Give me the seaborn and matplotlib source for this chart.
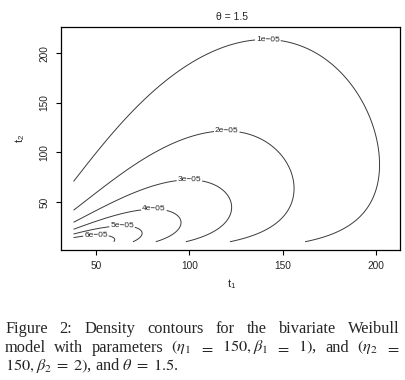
import numpy as np
import seaborn as sns
import matplotlib
matplotlib.use("Agg")
import matplotlib.pyplot as plt

# model parameters shown in the figure
theta = 1.5
eta = [150, 150]
beta = [1, 2]

# evaluation range of the density grid
x_range = [38, 206]
y_range = [10, 218]

# contour levels drawn
levels = [1e-05, 2e-05, 3e-05, 4e-05, 5e-05, 6e-05]
level_labels = ["1e\u221205", "2e\u221205", "3e\u221205", "4e\u221205", "5e\u221205", "6e\u221205"]

x_ticks = [50, 100, 150, 200]
y_ticks = [50, 100, 150, 200]

# where the inline labels sit on each contour
label_spots = [(142, 212), (120, 120), (100, 71), (81, 41), (64, 24), (50, 16)]

caption_lines = [
    ["Figure", "2:", "Density", "contours", "for", "the", "bivariate", "Weibull"],
    ["model", "with", "parameters", r"$(\eta_1$", "$=$", r"$150, \beta_1$", "$=$",
     "$1)$,", "and", r"$(\eta_2$", "$=$"],
    [r"$150, \beta_2\;=\;2)$, and $\theta\;=\;1.5$."],
]


def weibull_density(t_x, t_y):
    # positive-stable (Gumbel/Hougaard) bivariate Weibull; the x axis of the
    # figure carries the shape-2 margin
    a = (t_x / eta[1]) ** (beta[1] * theta)
    b = (t_y / eta[0]) ** (beta[0] * theta)
    A = a + b
    S = np.exp(-A ** (1 / theta))
    da = beta[1] * theta * a / t_x
    db = beta[0] * theta * b / t_y
    return S * da * db * A ** (1 / theta - 2) / theta * (A ** (1 / theta) / theta + 1 - 1 / theta)


W, H = 405, 380
sns.set_style("ticks")
plt.rcParams["font.family"] = ["Liberation Sans", "DejaVu Sans"]
plt.rcParams["mathtext.fontset"] = "stix"

fig = plt.figure(figsize=(W / 100, H / 100), dpi=100)
ax = fig.add_axes([61 / W, 1 - 250 / H, 339 / W, 223 / H])

xs = np.linspace(x_range[0], x_range[1], 300)
ys = np.linspace(y_range[0], y_range[1], 300)
X, Y = np.meshgrid(xs, ys)
Z = weibull_density(X, Y)

cs = ax.contour(X, Y, Z, levels=levels, colors="#3a3a3a", linewidths=0.7)
fmt = dict(zip(cs.levels, level_labels))
ax.clabel(cs, fmt=fmt, fontsize=6, inline=True, inline_spacing=2,
          manual=label_spots, colors="#222222")

pad_x = 0.04 * (x_range[1] - x_range[0])
pad_y = 0.04 * (y_range[1] - y_range[0])
ax.set_xlim(x_range[0] - pad_x, x_range[1] + pad_x)
ax.set_ylim(y_range[0] - pad_y, y_range[1] + pad_y)
ax.set_xticks(x_ticks)
ax.set_yticks(y_ticks)
ax.set_yticklabels([str(v) for v in y_ticks], rotation=90, va="center")
ax.tick_params(length=3.6, width=0.8, labelsize=7.3, color="black", pad=4.5)
for s in ax.spines.values():
    s.set_linewidth(0.9)
    s.set_color("black")

ax.set_xlabel(r"$\mathregular{t_1}$", fontsize=8)
ax.xaxis.set_label_coords(171 / 339, -34 / 223)
ax.xaxis.label.set_va("center")
ax.set_ylabel(r"$\mathregular{t_2}$", fontsize=8)
ax.yaxis.set_label_coords(-41 / 339, 0.5)
ax.yaxis.label.set_va("center")

fig.text(232 / W, 1 - 17 / H, "\u03b8 = 1.5", ha="center", va="center", fontsize=7.5)

# caption, justified like the source document
cap_font = dict(family="Liberation Serif", fontsize=11.8, va="baseline")
baselines = [333, 351.5, 370]
left, right = 5, 400
rows = []
for words, yb in zip(caption_lines, baselines):
    rows.append([fig.text(0, 1 - yb / H, w, **cap_font) for w in words])
fig.canvas.draw()
rend = fig.canvas.get_renderer()
for i, row in enumerate(rows):
    widths = [t.get_window_extent(rend).width for t in row]
    if i < len(rows) - 1 and len(row) > 1:
        gap = (right - left - sum(widths)) / (len(row) - 1)
    else:
        gap = 0
    x = left
    for t, w in zip(row, widths):
        t.set_x(x / W)
        x += w + gap

fig.savefig("out.png", dpi=100)
